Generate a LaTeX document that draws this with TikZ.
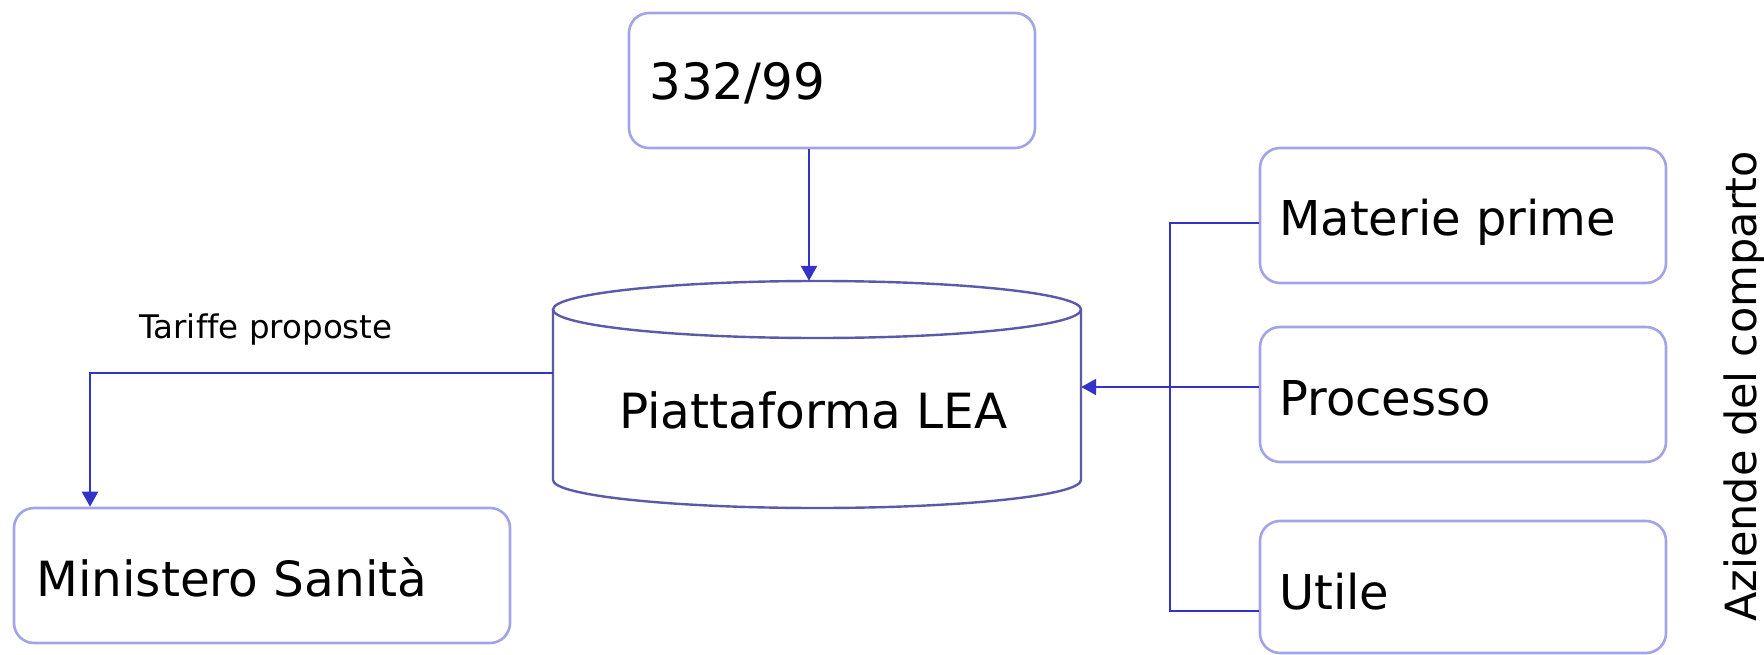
\documentclass[tikz,border=0pt]{standalone}
\usepackage{fontspec}
\setmainfont[Ligatures=CommonOff]{DejaVu Sans}
\usetikzlibrary{arrows.meta}
\definecolor{boxc}{RGB}{163,163,232}
\definecolor{cylc}{RGB}{90,90,168}
\definecolor{conc}{RGB}{51,51,200}
\begin{document}
\begin{tikzpicture}[x=1pt,y=-1pt,
  box/.style={draw=boxc,line width=2.6pt,rounded corners=20pt,inner sep=0pt},
  cylline/.style={draw=cylc,line width=2.4pt},
  conn/.style={draw=conc,line width=2.4pt},
  arr/.style={-{Triangle[length=15pt,width=16pt]}},
  txt/.style={inner sep=0pt,anchor=base west,font=\fontsize{48.5}{58}\selectfont},
  small/.style={inner sep=0pt,anchor=base west,font=\fontsize{32.5}{39}\selectfont}]
\useasboundingbox (0,0) rectangle (1764,655);
% boxes
\node[box,minimum width=406pt,minimum height=135pt] (law) at (832,80.5) {};
\node[txt,font=\fontsize{50}{60}\selectfont] (lawt) at (649,100) {332/99};
\node[box,minimum width=496pt,minimum height=135pt] (min) at (262,575.5) {};
\node[txt] (mint) at (36,596) {Ministero Sanità};
\node[box,minimum width=406pt,minimum height=135pt] (mat) at (1463,215.5) {};
\node[txt,font=\fontsize{48}{57}\selectfont] (matt) at (1279,236) {Materie prime};
\node[box,minimum width=406pt,minimum height=135pt] (pro) at (1463,394.5) {};
\node[txt,font=\fontsize{48}{57}\selectfont] (prot) at (1279,415) {Processo};
\node[box,minimum width=406pt,minimum height=132pt] (ut) at (1463,587) {};
\node[txt,font=\fontsize{48}{57}\selectfont] (utt) at (1279,609) {Utile};
% cylinder
\node[inner sep=0pt,minimum width=528pt,minimum height=227pt] (cyl) at (817,394.5) {};
\draw[cylline] (817,309.5) ellipse [x radius=264pt, y radius=28.5pt];
\draw[cylline] (553,309.5) -- (553,480) arc[start angle=180, end angle=360, x radius=264pt, y radius=28pt] -- (1081,309.5);
\node[txt] (leat) at (619,428) {Piattaforma LEA};
% connectors
\coordinate (ax) at (809,0);
\draw[conn,arr] (law.south -| ax) -- (cyl.north -| ax);
\coordinate (ly) at (0,373);
\coordinate (mx) at (90,0);
\draw[conn,arr] (cyl.west |- ly) -| (mx |- min.north);
\node[small] (tar) at (139,338) {Tariffe proposte};
\coordinate (bus) at (1170,0);
\coordinate (y1) at (0,223);
\coordinate (y2) at (0,387);
\coordinate (y3) at (0,611);
\draw[conn] (mat.west |- y1) -| (bus |- y3) -- (ut.west |- y3);
\draw[conn,arr] (pro.west |- y2) -- (cyl.east |- y2);
\node[inner sep=0pt,anchor=base west,rotate=90,font=\fontsize{43}{50}\selectfont] (az) at (1756,622) {Aziende del comparto};
\end{tikzpicture}
\end{document}
